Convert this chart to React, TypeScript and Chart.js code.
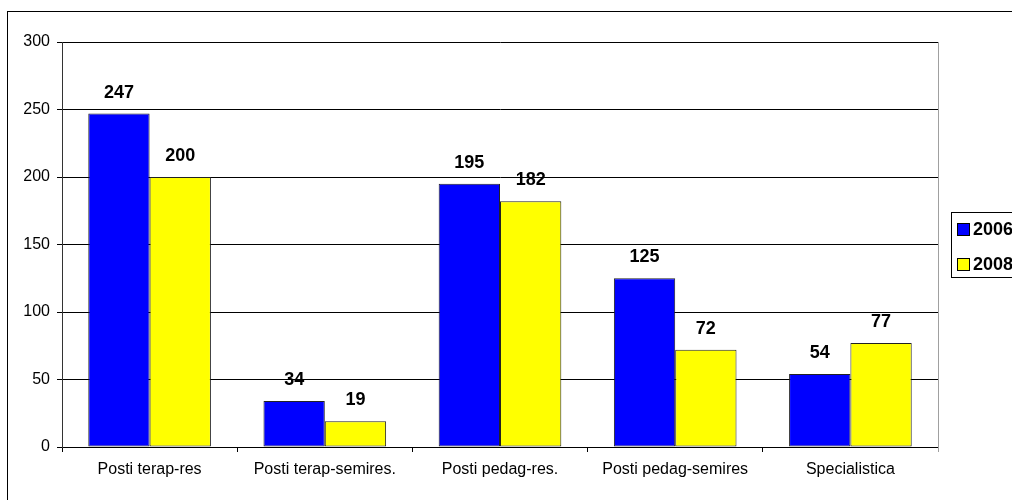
import React, { useEffect, useRef } from "react";
import { Chart, registerables } from "chart.js";

Chart.register(...registerables);

const categories = [
  "Posti terap-res",
  "Posti terap-semires.",
  "Posti pedag-res.",
  "Posti pedag-semires",
  "Specialistica",
];
const series2006 = [247, 34, 195, 125, 54];
const series2008 = [200, 19, 182, 72, 77];
const seriesLabels = ["2006", "2008"];
const yTicks = [0, 50, 100, 150, 200, 250, 300];

const FONT = "'Liberation Sans', Arial, sans-serif";

const decorPlugin = {
  id: "decor",
  beforeDraw(chart: any) {
    const ctx = chart.ctx;
    ctx.save();
    ctx.fillStyle = "#ffffff";
    ctx.fillRect(0, 0, chart.width, chart.height);
    ctx.strokeStyle = "#000000";
    ctx.lineWidth = 1;
    ctx.strokeRect(7.5, 11.5, 1200, 1200);
    ctx.restore();
  },
  afterDraw(chart: any) {
    const ctx = chart.ctx;
    const a = chart.chartArea;
    ctx.save();
    // right plot border
    ctx.strokeStyle = "#a0a0a0";
    ctx.lineWidth = 1;
    ctx.beginPath();
    ctx.moveTo(Math.round(a.right) + 0.5, a.top);
    ctx.lineTo(Math.round(a.right) + 0.5, a.bottom + 5);
    ctx.stroke();
    // legend
    const lx = 951.5;
    const ly = 212.5;
    ctx.strokeStyle = "#000000";
    ctx.strokeRect(lx, ly, 200, 65);
    const rows = [229, 264];
    chart.data.datasets.forEach((ds: any, i: number) => {
      const cy = rows[i];
      ctx.fillStyle = ds.backgroundColor;
      ctx.fillRect(957, cy - 6, 12, 12);
      ctx.strokeStyle = "#000000";
      ctx.strokeRect(957.5, cy - 5.5, 12, 12);
      ctx.fillStyle = "#000000";
      ctx.font = `bold 18px ${FONT}`;
      ctx.textAlign = "left";
      ctx.textBaseline = "middle";
      ctx.fillText(ds.label, 973, cy + 1);
    });
    ctx.restore();
  },
  afterDatasetsDraw(chart: any) {
    const ctx = chart.ctx;
    ctx.save();
    ctx.fillStyle = "#000000";
    ctx.font = `bold 18px ${FONT}`;
    ctx.textAlign = "center";
    ctx.textBaseline = "middle";
    chart.data.datasets.forEach((ds: any, i: number) => {
      const meta = chart.getDatasetMeta(i);
      meta.data.forEach((bar: any, j: number) => {
        ctx.fillText(String(ds.data[j]), bar.x, bar.y - 21);
      });
    });
    ctx.restore();
  },
};

export default function App() {
  const ref = useRef<HTMLCanvasElement | null>(null);
  useEffect(() => {
    if (!ref.current) return;
    const chart = new Chart(ref.current, {
      type: "bar",
      data: {
        labels: categories,
        datasets: [
          {
            label: seriesLabels[0],
            data: series2006,
            backgroundColor: "#0000ff",
            borderColor: "#222222",
            borderWidth: 1,
            borderSkipped: false,
          },
          {
            label: seriesLabels[1],
            data: series2008,
            backgroundColor: "#ffff00",
            borderColor: "#222222",
            borderWidth: 1,
            borderSkipped: false,
          },
        ],
      },
      options: {
        animation: false,
        responsive: false,
        devicePixelRatio: 1,
        layout: { padding: { top: 42, right: 74, left: 0, bottom: 0 } },
        datasets: { bar: { categoryPercentage: 0.7, barPercentage: 1 } },
        plugins: {
          legend: { display: false },
          tooltip: { enabled: false },
        },
        scales: {
          x: {
            afterFit: (s: any) => {
              s.height = 53;
            },
            grid: {
              offset: true,
              drawOnChartArea: false,
              color: "#000000",
              tickLength: 5,
            },
            border: { color: "#000000" },
            ticks: {
              color: "#000000",
              font: { family: FONT, size: 16 },
              padding: 8,
              maxRotation: 0,
              autoSkip: false,
            },
          },
          y: {
            min: 0,
            max: 300,
            afterFit: (s: any) => {
              s.width = 62;
            },
            afterBuildTicks: (s: any) => {
              s.ticks = yTicks.map((v) => ({ value: v }));
            },
            grid: { color: "#000000", tickLength: 5 },
            border: { color: "#333333" },
            ticks: {
              color: "#000000",
              font: { family: FONT, size: 16 },
              padding: 7,
            },
          },
        },
      },
      plugins: [decorPlugin],
    });
    return () => chart.destroy();
  }, []);
  return (
    <div style={{ position: "fixed", left: 0, top: 0, width: 1012, height: 500, overflow: "hidden" }}>
      <canvas ref={ref} width={1012} height={500} style={{ display: "block" }} />
    </div>
  );
}
